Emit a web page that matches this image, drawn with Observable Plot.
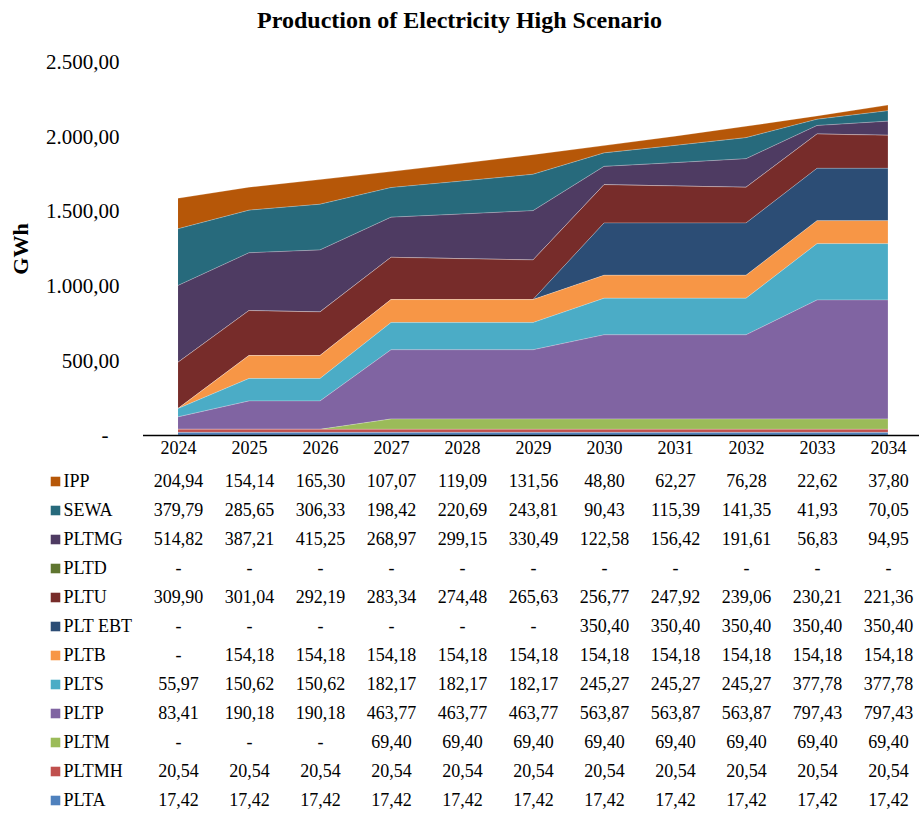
<!DOCTYPE html>
<html>
<head>
<meta charset="utf-8">
<script src="https://cdn.jsdelivr.net/npm/d3@7"></script>
<script src="https://cdn.jsdelivr.net/npm/@observablehq/plot@0.6"></script>
<style>
  html, body { margin: 0; padding: 0; background: #fff; }
  #wrap { width: 919px; font-family: "Liberation Serif", "Times New Roman", serif; }
  #title { height: 40px; line-height: 40px; text-align: center; font-weight: bold; font-size: 24px; color: #000; }
  #wrap svg { display: block; font-family: "Liberation Serif", "Times New Roman", serif !important; }
  #wrap svg text { font-family: "Liberation Serif", "Times New Roman", serif !important; }
</style>
</head>
<body>
<div id="wrap">
  <div id="title">Production of Electricity High Scenario</div>
  <div id="chart"></div>
  <div id="table"></div>
</div>
<script>
const years = [2024, 2025, 2026, 2027, 2028, 2029, 2030, 2031, 2032, 2033, 2034];

// Table order (top to bottom); the stack is drawn in the reverse order (PLTA at bottom)
const seriesNames = ["IPP", "SEWA", "PLTMG", "PLTD", "PLTU", "PLT EBT", "PLTB", "PLTS", "PLTP", "PLTM", "PLTMH", "PLTA"];
const seriesColors = ["#B65708", "#276A7C", "#4E3B62", "#5F7530", "#772C2A", "#2C4D75", "#F79646", "#4BACC6", "#8064A2", "#9BBB59", "#C0504D", "#4F81BD"];

// Values in GWh (null = "-")
const IPP    = [204.94, 154.14, 165.30, 107.07, 119.09, 131.56, 48.80, 62.27, 76.28, 22.62, 37.80];
const SEWA   = [379.79, 285.65, 306.33, 198.42, 220.69, 243.81, 90.43, 115.39, 141.35, 41.93, 70.05];
const PLTMG  = [514.82, 387.21, 415.25, 268.97, 299.15, 330.49, 122.58, 156.42, 191.61, 56.83, 94.95];
const PLTD   = [null, null, null, null, null, null, null, null, null, null, null];
const PLTU   = [309.90, 301.04, 292.19, 283.34, 274.48, 265.63, 256.77, 247.92, 239.06, 230.21, 221.36];
const PLTEBT = [null, null, null, null, null, null, 350.40, 350.40, 350.40, 350.40, 350.40];
const PLTB   = [null, 154.18, 154.18, 154.18, 154.18, 154.18, 154.18, 154.18, 154.18, 154.18, 154.18];
const PLTS   = [55.97, 150.62, 150.62, 182.17, 182.17, 182.17, 245.27, 245.27, 245.27, 377.78, 377.78];
const PLTP   = [83.41, 190.18, 190.18, 463.77, 463.77, 463.77, 563.87, 563.87, 563.87, 797.43, 797.43];
const PLTM   = [null, null, null, 69.40, 69.40, 69.40, 69.40, 69.40, 69.40, 69.40, 69.40];
const PLTMH  = [20.54, 20.54, 20.54, 20.54, 20.54, 20.54, 20.54, 20.54, 20.54, 20.54, 20.54];
const PLTA   = [17.42, 17.42, 17.42, 17.42, 17.42, 17.42, 17.42, 17.42, 17.42, 17.42, 17.42];

const yTicks = [500, 1000, 1500, 2000, 2500];

const seriesValues = [IPP, SEWA, PLTMG, PLTD, PLTU, PLTEBT, PLTB, PLTS, PLTP, PLTM, PLTMH, PLTA];

const rows = [];
seriesNames.forEach((name, i) => {
  years.forEach((yr, j) => {
    rows.push({series: name, year: yr, value: seriesValues[i][j]});
  });
});

const loc = d3.formatLocale({decimal: ",", thousands: ".", grouping: [3], currency: ["", ""]});
const fmt = loc.format(",.2f");
const font = "'Liberation Serif', 'Times New Roman', serif";
const stackOrder = seriesNames.slice().reverse();

const colorScale = {domain: seriesNames, range: seriesColors};
const xScale = {type: "point", domain: years, range: [178, 888], padding: 0};

const chart = Plot.plot({
  width: 919,
  height: 420,
  marginLeft: 143,
  marginRight: 0,
  marginTop: 22,
  marginBottom: 25,
  style: {fontFamily: font, fontSize: "21px", color: "#000", background: "#fff"},
  x: {...xScale},
  y: {domain: [0, 2500], range: [395, 22]},
  color: colorScale,
  marks: [
    Plot.areaY(rows, Plot.stackY({
      x: "year",
      y: d => d.value ?? 0,
      z: "series",
      fill: "series",
      order: stackOrder,
      stroke: "#ffffff",
      strokeOpacity: 0.35,
      strokeWidth: 0.6
    })),
    Plot.axisX({tickSize: 0, tickPadding: 6, fontSize: 18, tickFormat: d => String(d), label: null}),
    Plot.axisY({ticks: yTicks, tickFormat: fmt, tickSize: 0, tickPadding: 24, fontSize: 21, label: null}),
    Plot.axisY({ticks: [0], tickFormat: () => "-", tickSize: 0, tickPadding: 35, fontSize: 21, label: null}),
    Plot.text(["GWh"], {frameAnchor: "left", dx: -123, rotate: -90, textAnchor: "middle", fontWeight: "bold", fontSize: 22, fill: "#000"}),
    Plot.ruleY([0], {stroke: "#000", strokeWidth: 1.5})
  ]
});
document.getElementById("chart").appendChild(chart);

const table = Plot.plot({
  width: 919,
  height: 354,
  marginLeft: 63,
  marginRight: 0,
  marginTop: 0,
  marginBottom: 0,
  style: {fontFamily: font, fontSize: "18px", color: "#000", background: "#fff"},
  x: {...xScale, axis: null},
  y: {type: "point", domain: seriesNames, range: [17.6, 343], padding: 0, axis: null},
  color: colorScale,
  marks: [
    Plot.text(rows, {x: "year", y: "series", text: d => d.value == null ? "-" : fmt(d.value), fontSize: 18, fill: "#000"}),
    Plot.dot(seriesNames, {y: d => d, frameAnchor: "left", dx: -8, symbol: "square", r: 5.4, fill: d => d, stroke: null}),
    Plot.text(seriesNames, {y: d => d, frameAnchor: "left", textAnchor: "start", text: d => d, fontSize: 18, fill: "#000"})
  ]
});
document.getElementById("table").appendChild(table);
</script>
</body>
</html>
